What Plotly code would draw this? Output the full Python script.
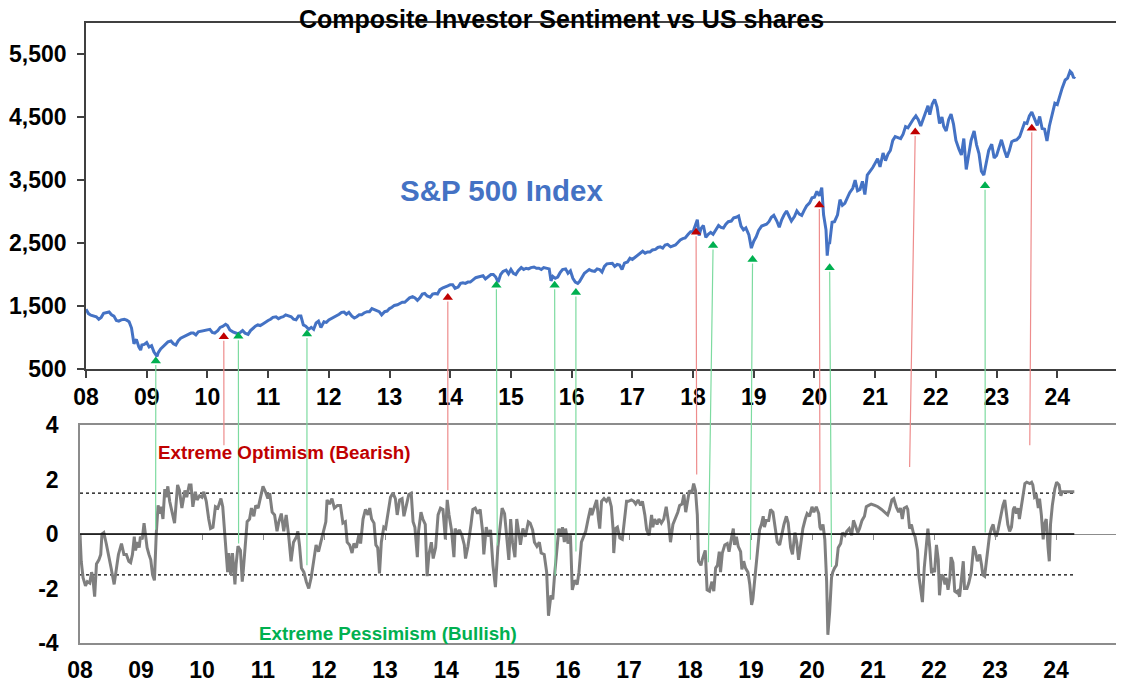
import plotly.graph_objects as go

# the page adds an 8px body margin, so the figure is laid out 8px smaller
PAGE_W, PAGE_H, PAD = 1124, 685, 8
W, H = PAGE_W - PAD, PAGE_H - PAD
FONT = "Arial, Liberation Sans, sans-serif"

# S&P 500 index (weekly-ish readings, decimal years)
sp_year = [2008.00, 2008.04, 2008.08, 2008.12, 2008.17, 2008.21, 2008.25, 2008.29, 2008.33, 2008.38,
           2008.42, 2008.46, 2008.50, 2008.54, 2008.58, 2008.63, 2008.67, 2008.71, 2008.75, 2008.77,
           2008.79, 2008.81, 2008.83, 2008.87, 2008.90, 2008.92, 2008.96, 2009.00, 2009.04, 2009.08,
           2009.12, 2009.17, 2009.19, 2009.23, 2009.27, 2009.31, 2009.35, 2009.40, 2009.44, 2009.48,
           2009.52, 2009.56, 2009.60, 2009.65, 2009.69, 2009.73, 2009.77, 2009.81, 2009.85, 2009.90,
           2009.94, 2009.99, 2010.04, 2010.08, 2010.12, 2010.17, 2010.21, 2010.25, 2010.30, 2010.33,
           2010.37, 2010.42, 2010.46, 2010.50, 2010.54, 2010.58, 2010.62, 2010.67, 2010.71, 2010.75,
           2010.79, 2010.83, 2010.87, 2010.92, 2010.96, 2011.00, 2011.04, 2011.08, 2011.13, 2011.17,
           2011.21, 2011.25, 2011.29, 2011.33, 2011.38, 2011.42, 2011.46, 2011.50, 2011.54, 2011.58,
           2011.62, 2011.67, 2011.71, 2011.75, 2011.79, 2011.83, 2011.87, 2011.92, 2011.96, 2012.00,
           2012.04, 2012.08, 2012.13, 2012.17, 2012.21, 2012.25, 2012.29, 2012.33, 2012.38, 2012.42,
           2012.46, 2012.50, 2012.54, 2012.58, 2012.63, 2012.67, 2012.71, 2012.75, 2012.79, 2012.83,
           2012.87, 2012.92, 2012.96, 2013.00, 2013.04, 2013.08, 2013.13, 2013.17, 2013.21, 2013.25,
           2013.29, 2013.33, 2013.38, 2013.42, 2013.46, 2013.50, 2013.54, 2013.58, 2013.62, 2013.67,
           2013.71, 2013.75, 2013.79, 2013.83, 2013.88, 2013.92, 2013.96, 2014.00, 2014.04, 2014.08,
           2014.13, 2014.17, 2014.21, 2014.25, 2014.29, 2014.33, 2014.38, 2014.42, 2014.46, 2014.50,
           2014.54, 2014.58, 2014.62, 2014.67, 2014.71, 2014.75, 2014.79, 2014.83, 2014.87, 2014.92,
           2014.96, 2015.00, 2015.04, 2015.08, 2015.12, 2015.17, 2015.21, 2015.25, 2015.29, 2015.33,
           2015.38, 2015.42, 2015.46, 2015.50, 2015.54, 2015.58, 2015.63, 2015.66, 2015.69, 2015.73,
           2015.77, 2015.81, 2015.85, 2015.90, 2015.94, 2015.98, 2016.02, 2016.06, 2016.10, 2016.13,
           2016.17, 2016.21, 2016.25, 2016.29, 2016.33, 2016.38, 2016.42, 2016.46, 2016.50, 2016.54,
           2016.58, 2016.63, 2016.67, 2016.71, 2016.75, 2016.79, 2016.83, 2016.87, 2016.92, 2016.96,
           2017.00, 2017.04, 2017.08, 2017.13, 2017.17, 2017.21, 2017.25, 2017.29, 2017.33, 2017.38,
           2017.42, 2017.46, 2017.50, 2017.54, 2017.58, 2017.63, 2017.67, 2017.71, 2017.75, 2017.79,
           2017.83, 2017.87, 2017.92, 2017.96, 2018.00, 2018.04, 2018.07, 2018.10, 2018.13, 2018.17,
           2018.21, 2018.25, 2018.29, 2018.33, 2018.38, 2018.42, 2018.46, 2018.50, 2018.54, 2018.58,
           2018.63, 2018.67, 2018.71, 2018.75, 2018.79, 2018.83, 2018.87, 2018.92, 2018.96, 2019.00,
           2019.04, 2019.08, 2019.13, 2019.17, 2019.21, 2019.25, 2019.29, 2019.33, 2019.38, 2019.42,
           2019.46, 2019.50, 2019.54, 2019.58, 2019.62, 2019.67, 2019.71, 2019.75, 2019.79, 2019.83,
           2019.87, 2019.92, 2019.96, 2020.00, 2020.04, 2020.08, 2020.12, 2020.15, 2020.19, 2020.21,
           2020.23, 2020.25, 2020.29, 2020.33, 2020.38, 2020.42, 2020.46, 2020.50, 2020.54, 2020.58,
           2020.63, 2020.67, 2020.71, 2020.75, 2020.79, 2020.83, 2020.87, 2020.92, 2020.96, 2021.00,
           2021.04, 2021.08, 2021.13, 2021.17, 2021.21, 2021.25, 2021.29, 2021.33, 2021.38, 2021.42,
           2021.46, 2021.50, 2021.54, 2021.58, 2021.63, 2021.67, 2021.71, 2021.75, 2021.79, 2021.83,
           2021.87, 2021.90, 2021.94, 2021.98, 2022.02, 2022.06, 2022.10, 2022.13, 2022.17, 2022.21,
           2022.25, 2022.29, 2022.33, 2022.38, 2022.42, 2022.46, 2022.50, 2022.54, 2022.58, 2022.63,
           2022.67, 2022.71, 2022.75, 2022.79, 2022.83, 2022.87, 2022.92, 2022.96, 2023.00, 2023.04,
           2023.08, 2023.13, 2023.17, 2023.21, 2023.25, 2023.29, 2023.33, 2023.38, 2023.42, 2023.46,
           2023.50, 2023.54, 2023.58, 2023.62, 2023.67, 2023.71, 2023.75, 2023.79, 2023.83, 2023.87,
           2023.92, 2023.96, 2024.00, 2024.04, 2024.08, 2024.13, 2024.17, 2024.21, 2024.24, 2024.27,
           2024.29]
sp_level = [1450, 1380, 1355, 1340, 1330, 1290, 1320, 1385, 1395, 1405,
            1360, 1340, 1270, 1260, 1280, 1290, 1275, 1250, 1150, 1000,
            900, 940, 970, 850, 800, 880, 890, 920, 850, 870,
            770, 700, 760, 820, 860, 900, 930, 945, 900, 880,
            950, 990, 1010, 1030, 1060, 1070, 1070, 1040, 1090, 1100,
            1110, 1115, 1130, 1080, 1070, 1110, 1160, 1175, 1210, 1190,
            1120, 1090, 1080, 1060, 1080, 1110, 1070, 1050, 1110, 1150,
            1180, 1200, 1190, 1220, 1250, 1270, 1290, 1320, 1330, 1300,
            1320, 1330, 1360, 1350, 1330, 1290, 1280, 1340, 1340, 1200,
            1180, 1130, 1160, 1130, 1230, 1260, 1160, 1250, 1240, 1280,
            1300, 1320, 1350, 1370, 1400, 1405, 1370, 1400, 1340, 1310,
            1330, 1360, 1360, 1390, 1410, 1410, 1460, 1440, 1430, 1410,
            1360, 1410, 1420, 1460, 1480, 1510, 1520, 1540, 1560, 1560,
            1590, 1630, 1650, 1630, 1590, 1630, 1690, 1700, 1660, 1640,
            1690, 1700, 1690, 1760, 1790, 1800, 1820, 1840, 1840, 1780,
            1800, 1860, 1870, 1860, 1880, 1880, 1920, 1950, 1960, 1970,
            1980, 1930, 1960, 2000, 2000, 1960, 1880, 2000, 2050, 2070,
            2010, 2080, 2020, 2000, 2060, 2110, 2080, 2100, 2090, 2110,
            2120, 2100, 2100, 2080, 2110, 2100, 2090, 1900, 1970, 1940,
            1960, 2030, 2080, 2090, 2020, 2060, 1940, 1880, 1860, 1890,
            1950, 2020, 2050, 2080, 2060, 2050, 2090, 2080, 2040, 2130,
            2170, 2180, 2180, 2130, 2160, 2150, 2080, 2180, 2200, 2260,
            2240, 2270, 2300, 2350, 2370, 2340, 2360, 2360, 2390, 2400,
            2430, 2440, 2420, 2470, 2480, 2440, 2450, 2470, 2510, 2550,
            2570, 2580, 2640, 2680, 2680, 2790, 2870, 2620, 2730, 2780,
            2590, 2640, 2670, 2640, 2730, 2780, 2750, 2740, 2800, 2840,
            2850, 2900, 2910, 2930, 2770, 2710, 2740, 2630, 2420, 2530,
            2600, 2700, 2770, 2790, 2800, 2840, 2910, 2940, 2850, 2750,
            2870, 2950, 3010, 2930, 2850, 2920, 3010, 2960, 2940, 3020,
            3090, 3140, 3220, 3230, 3320, 3250, 3380, 2950, 2710, 2300,
            2490, 2500, 2830, 2840, 2950, 3190, 3100, 3130, 3220, 3300,
            3370, 3500, 3330, 3350, 3480, 3270, 3580, 3640, 3700, 3770,
            3840, 3710, 3930, 3810, 3910, 3970, 4130, 4190, 4170, 4160,
            4230, 4350, 4330, 4400, 4470, 4520, 4460, 4360, 4470, 4600,
            4680, 4540, 4710, 4780, 4660, 4400, 4500, 4350, 4280, 4460,
            4550, 4390, 4130, 3990, 3900, 4160, 3670, 3900, 4130, 4280,
            4060, 3920, 3640, 3580, 3750, 3970, 4070, 3850, 3890, 4000,
            4140, 3970, 3860, 3970, 4110, 4130, 4140, 4190, 4290, 4410,
            4400, 4520, 4580, 4480, 4370, 4510, 4320, 4310, 4120, 4360,
            4590, 4720, 4700, 4840, 4960, 5090, 5120, 5230, 5200, 5120,
            5150]

# Composite investor sentiment (z-score)
sent_year = [2008.00, 2008.02, 2008.05, 2008.09, 2008.12, 2008.16, 2008.19, 2008.21, 2008.24, 2008.27,
             2008.31, 2008.34, 2008.36, 2008.39, 2008.43, 2008.47, 2008.51, 2008.56, 2008.60, 2008.63,
             2008.68, 2008.72, 2008.76, 2008.80, 2008.83, 2008.86, 2008.89, 2008.91, 2008.94, 2008.97,
             2008.99, 2009.02, 2009.05, 2009.08, 2009.10, 2009.13, 2009.16, 2009.19, 2009.22, 2009.25,
             2009.28, 2009.31, 2009.33, 2009.36, 2009.39, 2009.41, 2009.44, 2009.47, 2009.51, 2009.55,
             2009.60, 2009.63, 2009.67, 2009.72, 2009.75, 2009.79, 2009.82, 2009.85, 2009.89, 2009.92,
             2009.96, 2010.00, 2010.03, 2010.07, 2010.11, 2010.14, 2010.18, 2010.22, 2010.26, 2010.31,
             2010.34, 2010.38, 2010.42, 2010.44, 2010.47, 2010.50, 2010.54, 2010.56, 2010.59, 2010.63,
             2010.66, 2010.68, 2010.71, 2010.74, 2010.78, 2010.81, 2010.85, 2010.88, 2010.92, 2010.96,
             2011.00, 2011.04, 2011.08, 2011.11, 2011.15, 2011.19, 2011.23, 2011.26, 2011.30, 2011.34,
             2011.38, 2011.42, 2011.46, 2011.50, 2011.55, 2011.57, 2011.60, 2011.63, 2011.67, 2011.71,
             2011.75, 2011.79, 2011.84, 2011.87, 2011.91, 2011.96, 2011.99, 2012.03, 2012.05, 2012.09,
             2012.13, 2012.17, 2012.22, 2012.27, 2012.31, 2012.35, 2012.38, 2012.42, 2012.46, 2012.49,
             2012.53, 2012.57, 2012.60, 2012.64, 2012.68, 2012.72, 2012.75, 2012.78, 2012.82, 2012.85,
             2012.88, 2012.91, 2012.94, 2012.98, 2013.01, 2013.05, 2013.09, 2013.13, 2013.17, 2013.20,
             2013.24, 2013.28, 2013.31, 2013.35, 2013.39, 2013.43, 2013.46, 2013.49, 2013.53, 2013.55,
             2013.59, 2013.62, 2013.66, 2013.69, 2013.72, 2013.76, 2013.79, 2013.83, 2013.87, 2013.91,
             2013.95, 2013.99, 2014.02, 2014.05, 2014.09, 2014.13, 2014.15, 2014.19, 2014.22, 2014.26,
             2014.30, 2014.32, 2014.36, 2014.41, 2014.44, 2014.48, 2014.52, 2014.56, 2014.60, 2014.62,
             2014.66, 2014.70, 2014.73, 2014.77, 2014.81, 2014.85, 2014.88, 2014.92, 2014.96, 2015.00,
             2015.03, 2015.06, 2015.09, 2015.13, 2015.16, 2015.20, 2015.22, 2015.26, 2015.30, 2015.35,
             2015.38, 2015.42, 2015.45, 2015.49, 2015.53, 2015.56, 2015.61, 2015.65, 2015.68, 2015.72,
             2015.75, 2015.78, 2015.81, 2015.85, 2015.88, 2015.91, 2015.94, 2015.96, 2016.00, 2016.04,
             2016.07, 2016.11, 2016.15, 2016.18, 2016.22, 2016.26, 2016.29, 2016.33, 2016.37, 2016.39,
             2016.44, 2016.47, 2016.50, 2016.52, 2016.55, 2016.59, 2016.63, 2016.67, 2016.71, 2016.74,
             2016.75, 2016.78, 2016.81, 2016.85, 2016.89, 2016.92, 2016.96, 2016.99, 2017.04, 2017.08,
             2017.11, 2017.15, 2017.19, 2017.22, 2017.26, 2017.29, 2017.33, 2017.37, 2017.39, 2017.42,
             2017.46, 2017.49, 2017.53, 2017.57, 2017.61, 2017.65, 2017.68, 2017.72, 2017.76, 2017.80,
             2017.83, 2017.87, 2017.90, 2017.93, 2017.96, 2017.99, 2018.03, 2018.06, 2018.09, 2018.12,
             2018.14, 2018.18, 2018.20, 2018.23, 2018.25, 2018.28, 2018.32, 2018.36, 2018.39, 2018.42,
             2018.45, 2018.48, 2018.50, 2018.53, 2018.57, 2018.61, 2018.64, 2018.68, 2018.71, 2018.73,
             2018.76, 2018.79, 2018.83, 2018.85, 2018.88, 2018.91, 2018.95, 2018.98, 2019.01, 2019.03,
             2019.06, 2019.09, 2019.11, 2019.14, 2019.17, 2019.20, 2019.22, 2019.25, 2019.29, 2019.32,
             2019.36, 2019.40, 2019.43, 2019.47, 2019.51, 2019.54, 2019.58, 2019.61, 2019.65, 2019.68,
             2019.72, 2019.75, 2019.78, 2019.81, 2019.85, 2019.89, 2019.92, 2019.96, 2020.00, 2020.03,
             2020.07, 2020.11, 2020.13, 2020.15, 2020.18, 2020.21, 2020.24, 2020.26, 2020.29, 2020.32,
             2020.34, 2020.37, 2020.40, 2020.43, 2020.47, 2020.50, 2020.54, 2020.57, 2020.61, 2020.65,
             2020.68, 2020.72, 2020.75, 2020.78, 2020.82, 2020.86, 2020.89, 2020.93, 2020.97, 2021.03,
             2021.08, 2021.14, 2021.19, 2021.24, 2021.27, 2021.31, 2021.34, 2021.38, 2021.42, 2021.45,
             2021.48, 2021.51, 2021.55, 2021.57, 2021.60, 2021.63, 2021.66, 2021.69, 2021.73, 2021.75,
             2021.78, 2021.81, 2021.84, 2021.86, 2021.90, 2021.93, 2021.96, 2021.98, 2022.01, 2022.04,
             2022.07, 2022.09, 2022.12, 2022.15, 2022.18, 2022.20, 2022.23, 2022.26, 2022.28, 2022.31,
             2022.34, 2022.37, 2022.39, 2022.42, 2022.45, 2022.48, 2022.50, 2022.54, 2022.57, 2022.61,
             2022.65, 2022.68, 2022.71, 2022.75, 2022.78, 2022.80, 2022.83, 2022.86, 2022.89, 2022.91,
             2022.94, 2022.97, 2022.99, 2023.02, 2023.05, 2023.08, 2023.10, 2023.13, 2023.16, 2023.19,
             2023.21, 2023.24, 2023.27, 2023.30, 2023.32, 2023.35, 2023.38, 2023.40, 2023.43, 2023.46,
             2023.49, 2023.52, 2023.57, 2023.60, 2023.62, 2023.65, 2023.68, 2023.71, 2023.73, 2023.76,
             2023.79, 2023.81, 2023.84, 2023.87, 2023.89, 2023.91, 2023.94, 2023.98, 2024.01, 2024.05,
             2024.08, 2024.10, 2024.14, 2024.20, 2024.25, 2024.30]
sent_value = [0.0, -1.0, -1.6, -1.9, -1.75, -1.8, -1.4, -1.6, -2.3, -1.1,
              -0.95, -0.75, 0.0, 0.05, -0.35, -0.75, -1.25, -1.85, -1.1, -0.75,
              -0.35, -0.75, -0.75, -1.0, -1.05, -0.75, -0.1, -0.6, -0.3, -0.5,
              -0.1, -0.2, 0.4, -0.3, -0.5, -0.75, -0.95, -1.5, -1.7, 0.0,
              1.05, 0.75, 1.0, 0.55, 1.65, 1.35, 1.75, 1.2, 0.75, 0.4,
              1.8, 1.6, 0.95, 1.6, 1.35, 1.8, 1.8, 1.0, 1.55, 1.25,
              1.4, 1.35, 1.55, 1.2, 0.55, 0.2, 0.25, 1.0, 0.95, 1.3,
              1.0, -0.3, -1.4, -0.7, -1.5, -0.7, -1.85, -1.1, -0.45, -0.6,
              -1.75, -1.25, -0.3, 0.45, 0.55, 0.95, 0.65, 1.05, 0.95, 1.35,
              1.75, 1.55, 1.3, 1.5, 0.8, 0.7, 0.1, 0.45, 0.75, 0.1,
              0.7, -0.05, -1.0, -0.3, -0.1, 0.1, -0.45, -1.25, -1.4, -1.75,
              -2.0, -1.6, -0.9, -0.4, -0.65, -0.2, 0.1, 0.45, 1.25, 1.1,
              1.3, 0.95, 1.05, 1.05, 0.4, 0.45, -0.3, -0.4, -0.7, -0.35,
              -0.5, -0.05, -0.35, 0.55, 0.9, 0.7, 0.95, 0.55, 0.4, -0.4,
              -0.5, -1.45, -0.3, 0.25, 0.2, 0.75, 1.35, 1.5, 1.3, 0.7,
              1.25, 1.3, 0.65, 1.05, 1.45, 1.5, 0.45, 0.25, -0.85, 0.1,
              0.8, 0.55, 0.35, -1.55, -0.75, -0.3, -0.9, -0.5, 0.7, 0.95,
              0.9, -0.2, 1.25, 0.7, 0.15, -0.85, 0.2, 0.0, 0.15, -0.05,
              -0.4, -0.9, -0.45, 0.35, 0.9, 0.95, 0.75, 0.9, 0.1, -0.75,
              0.25, -0.1, 0.15, -1.15, -1.95, -0.5, 0.25, 0.95, 0.75, -0.3,
              -0.95, 0.55, -0.3, -0.85, 0.55, -0.05, -0.4, 0.2, -0.1, 0.45,
              0.4, 0.15, -0.3, -0.45, -0.3, -0.7, -0.75, -1.4, -3.0, -2.25,
              -2.4, -1.5, -0.75, 0.2, -0.1, 0.25, -0.3, 0.2, -0.35, -0.05,
              -2.05, -1.7, -1.85, -1.4, -0.3, -0.1, 0.1, 0.55, 0.95, 0.7,
              1.1, 1.25, 0.55, 0.2, 1.2, 1.3, 1.2, 1.35, 1.0, 0.15,
              -0.7, 0.2, 0.25, -0.15, -0.2, 0.4, 1.2, 1.2, 1.25, 1.2,
              1.1, 1.25, 1.05, 1.2, 0.7, 0.15, -0.05, 0.7, 0.25, 0.55,
              0.35, 0.55, 0.4, 0.55, 1.0, 0.4, -0.3, 0.35, 0.55, 0.8,
              1.05, 1.1, 1.45, 0.8, 1.2, 1.6, 1.5, 1.85, 1.6, 0.7,
              -1.0, -1.15, -0.95, -0.75, -0.6, -2.05, -2.1, -1.75, -2.1, -1.25,
              -1.15, -0.65, -1.4, -0.7, -0.4, -0.35, -0.65, -0.15, 0.2, -0.4,
              -0.1, -0.45, -0.65, -1.3, -1.0, -1.25, -1.4, -1.85, -2.6, -2.4,
              -1.7, -1.0, -0.4, 0.15, 0.35, 0.65, 0.25, 0.5, 0.5, 0.9,
              0.8, 0.25, -0.3, -0.4, 0.1, 0.35, 0.65, 0.4, -0.5, -0.75,
              0.05, -0.3, -0.95, -0.4, 0.2, 0.55, 0.75, 0.65, 1.0, 0.8,
              1.0, 0.75, 0.25, 0.15, 0.35, -0.2, -1.75, -3.7, -2.85, -1.6,
              -1.4, -1.25, -1.15, -0.5, -0.35, 0.05, -0.05, 0.1, 0.2, -0.05,
              0.5, 0.25, 0.05, 0.2, 0.5, 0.65, 1.0, 1.05, 1.1, 1.05,
              1.0, 0.9, 0.8, 0.7, 0.9, 1.25, 1.3, 1.0, 0.8, 0.95,
              0.55, 0.95, 1.0, 0.9, 0.2, 0.35, 0.05, -0.1, -0.6, -1.5,
              -2.0, -2.5, -1.25, -0.65, 0.2, -0.5, -1.45, -1.25, -1.4, -0.4,
              -0.95, -2.25, -1.5, -1.55, -1.85, -1.6, -2.05, -1.6, -0.85, -1.05,
              -2.1, -2.15, -2.1, -2.3, -1.7, -1.0, -2.0, -2.0, -1.8, -1.4,
              -0.45, -0.65, -1.0, -0.75, -1.15, -1.5, -1.55, -0.9, -0.5, -0.05,
              0.2, 0.35, 0.1, -0.1, 0.15, 0.5, 0.8, 1.05, 1.25, 0.65,
              0.35, 0.1, 0.25, 0.9, 1.0, 0.75, 0.95, 0.55, 1.0, 1.3,
              1.85, 1.9, 1.85, 1.9, 1.8, 1.35, 1.4, 0.95, 1.3, 0.7,
              -0.2, 0.35, 0.55, -0.5, -1.0, 0.35, 1.05, 1.65, 1.9, 1.8,
              1.4, 1.55, 1.55, 1.55, 1.55, 1.55]

extreme_level = 1.5

# arrows: S&P turning point (top) linked to sentiment reading (bottom)
arrow_top_year = [2009.15, 2010.27, 2010.51, 2011.64, 2013.96, 2014.76, 2015.72, 2016.07,
                  2018.05, 2018.33, 2018.98, 2020.08, 2020.25, 2021.66, 2022.81, 2023.58]
arrow_top_level = [627, 1011, 1022, 1054, 1634, 1829, 1829, 1714,
                   2672, 2462, 2240, 3106, 2108, 4266, 3411, 4324]
arrow_low_year = [2009.24, 2010.36, 2010.60, 2011.72, 2014.03, 2014.84, 2015.79, 2016.13,
                  2018.11, 2018.30, 2018.99, 2020.13, 2020.32, 2021.60, 2022.84, 2023.57]
arrow_low_sent = [0.1, 3.2, -0.4, -1.2, 1.55, -0.48, -1.58, -0.7,
                  2.13, -1.09, -1.0, 1.48, -1.27, 2.4, 0.0, 3.2]
arrow_kind = ["bull", "bear", "bull", "bull", "bear", "bull", "bull", "bull",
              "bear", "bull", "bull", "bear", "bull", "bear", "bull", "bear"]

year_ticks = list(range(2008, 2025))
year_labels = ["08", "09", "10", "11", "12", "13", "14", "15", "16",
               "17", "18", "19", "20", "21", "22", "23", "24"]
sp_ticks = [500, 1500, 2500, 3500, 4500, 5500]
sent_ticks = [4, 2, 0, -2, -4]
sent_labels = ["4", "2", "0", "-2", "-4"]

X_RANGE = [2008, 2025]
SP_RANGE = [500, 6000]
SENT_RANGE = [-4, 4]


def dom_x(a, b):
    return [(a - PAD) / W, (b - PAD) / W]


def dom_y(top, bottom):
    return [1 - (bottom - PAD) / H, 1 - (top - PAD) / H]


TOP_X = dom_x(86, 1118)
LOW_X = dom_x(80, 1117)
TOP_Y = dom_y(22.7, 369)
LOW_Y = dom_y(425, 643)

line_col = {"bull": "#7DDBA0", "bear": "#EE8C8C"}
head_col = {"bull": "#00B050", "bear": "#C00000"}


def to_px(xv, yv, xdom, ydom, xr, yr):
    px = W * (xdom[0] + (xv - xr[0]) / (xr[1] - xr[0]) * (xdom[1] - xdom[0]))
    py = H * (1 - ydom[1]) + (yr[1] - yv) / (yr[1] - yr[0]) * H * (ydom[1] - ydom[0])
    return px, py


fig = go.Figure()

fig.add_trace(go.Scatter(x=sp_year, y=sp_level, mode="lines", xaxis="x", yaxis="y",
                         line=dict(color="#4472C4", width=3), hoverinfo="skip"))

for k in ["bull", "bear"]:
    idx = [i for i, a in enumerate(arrow_kind) if a == k]
    fig.add_trace(go.Scatter(x=[arrow_top_year[i] for i in idx], y=[arrow_top_level[i] for i in idx],
                             mode="markers", xaxis="x", yaxis="y",
                             marker=dict(symbol="triangle-up", size=9, color=head_col[k]),
                             hoverinfo="skip"))

x_ends = [sent_year[0], sent_year[-1]]
for lvl in [extreme_level, -extreme_level]:
    fig.add_trace(go.Scatter(x=x_ends, y=[lvl, lvl], mode="lines", xaxis="x2", yaxis="y2",
                             line=dict(color="black", width=1.2, dash="dot"), hoverinfo="skip"))
fig.add_trace(go.Scatter(x=x_ends, y=[0, 0], mode="lines", xaxis="x3", yaxis="y2",
                         line=dict(color="black", width=1.6), hoverinfo="skip"))
fig.add_trace(go.Scatter(x=sent_year, y=sent_value, mode="lines", xaxis="x2", yaxis="y2",
                         line=dict(color="#7F7F7F", width=3), hoverinfo="skip"))

annotations = []
for i, k in enumerate(arrow_kind):
    hx, hy = to_px(arrow_top_year[i], arrow_top_level[i], TOP_X, TOP_Y, X_RANGE, SP_RANGE)
    tx, ty = to_px(arrow_low_year[i], arrow_low_sent[i], LOW_X, LOW_Y, X_RANGE, SENT_RANGE)
    annotations.append(dict(x=arrow_top_year[i], y=arrow_top_level[i], xref="x", yref="y",
                            ax=tx - hx, ay=ty - hy, axref="pixel", ayref="pixel",
                            text="", showarrow=True, arrowhead=0, arrowwidth=1.2,
                            arrowcolor=line_col[k], standoff=4))

annotations += [
    dict(text="Composite Investor Sentiment vs US shares", x=(561 - PAD) / W, y=1 - (19 - PAD) / H,
         xref="paper", yref="paper", xanchor="center", yanchor="middle", showarrow=False,
         font=dict(family=FONT, size=25, color="black", weight="bold")),
    dict(text="S&P 500 Index", x=2014.85, y=3330, xref="x", yref="y", showarrow=False,
         xanchor="center", yanchor="middle",
         font=dict(family=FONT, size=29.5, color="#4472C4", weight="bold")),
    dict(text="Extreme Optimism (Bearish)", x=2009.25, y=3.0, xref="x2", yref="y2",
         showarrow=False, xanchor="left", yanchor="middle",
         font=dict(family=FONT, size=18.8, color="#C00000", weight="bold")),
    dict(text="Extreme Pessimism (Bullish)", x=2010.9, y=-3.65, xref="x2", yref="y2",
         showarrow=False, xanchor="left", yanchor="middle",
         font=dict(family=FONT, size=18.8, color="#00B050", weight="bold")),
]

tick_font = dict(family=FONT, size=23, color="black", weight="bold")

fig.update_layout(
    width=W, height=H, margin=dict(l=0, r=0, t=0, b=0, autoexpand=False),
    paper_bgcolor="white", plot_bgcolor="white", showlegend=False,
    annotations=annotations,
    xaxis=dict(domain=TOP_X, anchor="y", range=X_RANGE, automargin=False,
               tickvals=year_ticks + [2025], ticktext=year_labels + [""],
               ticks="outside", ticklen=7, tickcolor="#404040", tickwidth=1.5,
               showline=True, linecolor="#404040", linewidth=1.5, mirror=True,
               showgrid=False, zeroline=False, tickfont=tick_font),
    yaxis=dict(domain=TOP_Y, anchor="x", range=SP_RANGE, automargin=False,
               tickvals=sp_ticks, tickformat=",", ticks="outside", ticklen=7,
               tickcolor="#404040", tickwidth=1.5, ticklabelstandoff=6,
               showline=True, linecolor="#404040", linewidth=1.5, mirror=True,
               showgrid=False, zeroline=False, tickfont=tick_font),
    xaxis2=dict(domain=LOW_X, anchor="y2", range=X_RANGE, automargin=False,
                tickvals=year_ticks, ticktext=year_labels, ticks="",
                ticklabelstandoff=6,
                showline=True, linecolor="#8C8C8C", linewidth=1.5, mirror=True,
                showgrid=False, zeroline=False, tickfont=tick_font),
    xaxis3=dict(overlaying="x2", anchor="free", position=(LOW_Y[0] + LOW_Y[1]) / 2,
                range=X_RANGE, tickvals=year_ticks, ticks="outside", ticklen=5,
                tickcolor="#8C8C8C", tickwidth=1.2, showticklabels=False, automargin=False,
                showline=False, showgrid=False, zeroline=False),
    yaxis2=dict(domain=LOW_Y, anchor="x2", range=SENT_RANGE, automargin=False,
                tickvals=sent_ticks, ticktext=sent_labels, ticks="", ticklabelstandoff=15,
                showline=True, linecolor="#8C8C8C", linewidth=1.5, mirror=True,
                showgrid=False, zeroline=True, zerolinecolor="#8C8C8C", zerolinewidth=1,
                tickfont=tick_font),
)

fig.write_html("out.html")
